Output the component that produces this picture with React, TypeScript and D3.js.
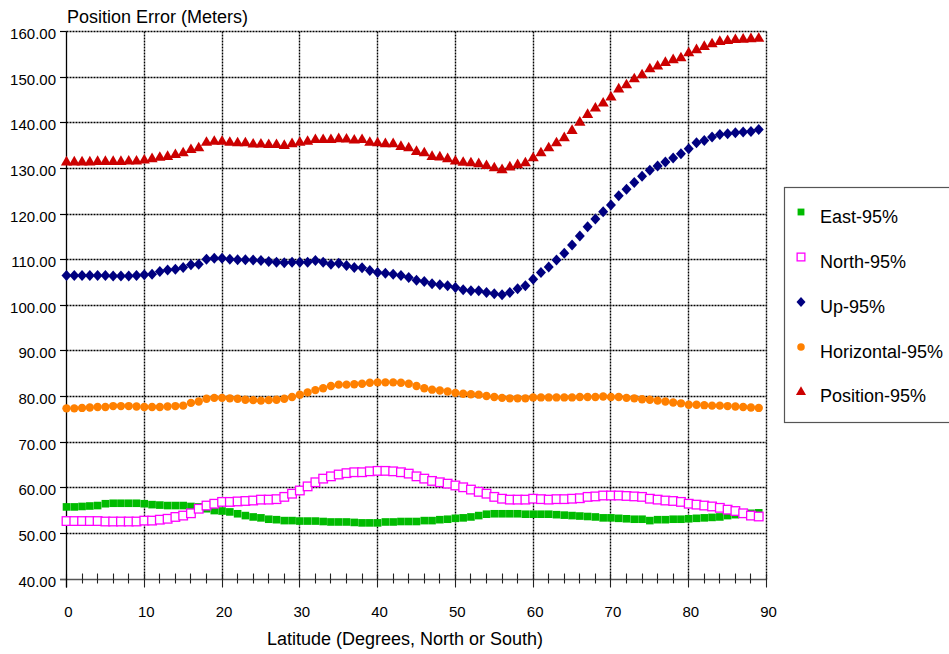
import React from "react";
import * as d3 from "d3";

const latitudes: number[] = d3.range(0, 90);

const east95: number[] = [
  55.8, 55.8, 55.9, 56.0, 56.1, 56.5, 56.6, 56.6, 56.6, 56.6,
  56.5, 56.3, 56.2, 56.1, 56.1, 56.1, 55.9, 55.8, 55.4, 55.0,
  54.9, 54.7, 54.3, 53.9, 53.6, 53.4, 53.1, 53.0, 52.8, 52.8,
  52.7, 52.7, 52.7, 52.6, 52.5, 52.5, 52.5, 52.4, 52.3, 52.3,
  52.3, 52.5, 52.5, 52.6, 52.6, 52.6, 52.8, 52.8, 53.0, 53.1,
  53.3, 53.4, 53.6, 53.9, 54.2, 54.3, 54.3, 54.3, 54.3, 54.2,
  54.2, 54.2, 54.2, 54.1, 54.0, 53.9, 53.8, 53.7, 53.6, 53.4,
  53.4, 53.3, 53.2, 53.1, 53.1, 52.8, 53.0, 53.0, 53.1, 53.1,
  53.2, 53.3, 53.4, 53.5, 53.6, 53.9, 54.1, 54.3, 54.4, 54.5,
];

const north95: number[] = [
  52.7, 52.7, 52.7, 52.7, 52.7, 52.6, 52.6, 52.6, 52.6, 52.6,
  52.8, 52.8, 53.0, 53.2, 53.6, 53.9, 54.4, 55.4, 56.1, 56.5,
  56.9, 56.9, 57.0, 57.1, 57.2, 57.4, 57.4, 57.5, 58.0, 58.7,
  59.4, 60.3, 61.2, 62.0, 62.5, 62.9, 63.2, 63.4, 63.4, 63.6,
  63.7, 63.7, 63.6, 63.4, 63.1, 62.5, 62.0, 61.5, 61.2, 60.9,
  60.5, 60.1, 59.6, 59.1, 58.7, 58.0, 57.6, 57.4, 57.4, 57.4,
  57.6, 57.5, 57.4, 57.5, 57.5, 57.6, 57.7, 58.0, 58.1, 58.3,
  58.3, 58.3, 58.2, 58.1, 58.0, 57.6, 57.4, 57.2, 57.1, 56.9,
  56.5, 56.3, 56.1, 55.9, 55.6, 55.2, 54.9, 54.4, 53.9, 53.7,
];

const up95: number[] = [
  106.5, 106.5, 106.5, 106.5, 106.5, 106.5, 106.4, 106.4, 106.4, 106.5,
  106.7, 106.8, 107.4, 107.7, 107.9, 108.3, 108.9, 109.0, 110.1, 110.3,
  110.3, 110.1, 110.0, 110.0, 109.9, 109.8, 109.6, 109.4, 109.3, 109.4,
  109.4, 109.4, 109.8, 109.4, 109.0, 109.2, 108.7, 108.3, 108.2, 107.6,
  107.2, 107.0, 106.8, 106.5, 106.1, 105.5, 105.2, 104.7, 104.5, 104.3,
  103.9, 103.4, 103.2, 103.2, 102.8, 102.5, 102.3, 102.8, 103.6, 104.3,
  105.7, 107.2, 108.4, 109.9, 111.4, 113.2, 115.2, 117.2, 118.9, 120.5,
  122.0, 124.0, 125.4, 126.9, 128.3, 129.6, 130.5, 131.4, 132.3, 133.2,
  134.3, 135.6, 136.1, 136.9, 137.4, 137.6, 137.8, 138.0, 138.1, 138.5,
];

const horizontal95: number[] = [
  77.4, 77.4, 77.5, 77.6, 77.7, 77.7, 77.9, 77.9, 77.9, 77.8,
  77.7, 77.7, 77.7, 77.8, 77.9, 78.0, 78.6, 78.9, 79.5, 79.7,
  79.7, 79.6, 79.5, 79.3, 79.2, 79.1, 79.2, 79.3, 79.5, 79.9,
  80.4, 80.9, 81.4, 81.8, 82.3, 82.6, 82.6, 82.7, 82.8, 83.0,
  83.1, 83.1, 83.1, 83.0, 82.8, 82.3, 81.8, 81.5, 81.3, 81.1,
  80.8, 80.6, 80.5, 80.4, 80.1, 79.9, 79.7, 79.6, 79.6, 79.6,
  79.8, 79.8, 79.8, 79.8, 79.8, 79.8, 79.9, 79.9, 79.9, 80.0,
  79.9, 79.9, 79.7, 79.6, 79.4, 79.3, 79.1, 78.9, 78.7, 78.5,
  78.2, 78.2, 78.1, 78.0, 78.0, 77.9, 77.8, 77.7, 77.6, 77.5,
];

const position95: number[] = [
  131.6, 131.6, 131.6, 131.6, 131.7, 131.7, 131.7, 131.7, 131.8, 131.8,
  132.0, 132.3, 132.6, 132.8, 133.2, 133.6, 134.3, 134.7, 135.9, 136.1,
  136.1, 135.9, 135.8, 135.8, 135.5, 135.5, 135.4, 135.4, 135.2, 135.6,
  135.9, 136.1, 136.5, 136.5, 136.5, 136.7, 136.6, 136.4, 136.5, 135.9,
  135.8, 135.6, 135.6, 135.0, 134.7, 133.9, 133.6, 132.8, 132.7, 132.3,
  131.8, 131.5, 131.4, 131.2, 130.8, 130.3, 129.9, 130.5, 131.0, 131.4,
  132.5, 133.6, 134.7, 135.8, 136.9, 138.5, 140.3, 142.0, 143.4, 144.5,
  145.8, 147.6, 148.5, 149.8, 150.7, 152.0, 152.6, 153.4, 154.0, 154.4,
  155.5, 156.2, 156.9, 157.5, 158.0, 158.2, 158.4, 158.5, 158.6, 158.7,
];

const seriesNames: string[] = ["East-95%", "North-95%", "Up-95%", "Horizontal-95%", "Position-95%"];
const yTicks: number[] = [40, 50, 60, 70, 80, 90, 100, 110, 120, 130, 140, 150, 160];
const xTicks: number[] = [0, 10, 20, 30, 40, 50, 60, 70, 80, 90];
const xMinorTicks: number[] = d3.range(0, 91, 2);

const FONT = "'Liberation Sans', Arial, Helvetica, sans-serif";

type Kind = "sqFill" | "sqOpen" | "diamond" | "circle" | "triangle";
const seriesStyle: { kind: Kind; color: string; values: number[] }[] = [
  { kind: "sqFill", color: "#00bb00", values: east95 },
  { kind: "sqOpen", color: "#ff00ff", values: north95 },
  { kind: "diamond", color: "#000080", values: up95 },
  { kind: "circle", color: "#ff8000", values: horizontal95 },
  { kind: "triangle", color: "#cc0000", values: position95 },
];

function Marker({ kind, color, cx, cy, s = 1 }: { kind: Kind; color: string; cx: number; cy: number; s?: number }) {
  if (kind === "sqFill") {
    const h = 3.8 * s;
    return <rect x={cx - h} y={cy - h} width={2 * h} height={2 * h} fill={color} />;
  }
  if (kind === "sqOpen") {
    const h = 4.3 * s;
    return <rect x={cx - h} y={cy - h} width={2 * h} height={2 * h} fill="#fff" stroke={color} strokeWidth={1.3} />;
  }
  if (kind === "diamond") {
    const w = 5 * s, h = 5.5 * s;
    return <path d={`M${cx},${cy - h}L${cx + w},${cy}L${cx},${cy + h}L${cx - w},${cy}Z`} fill={color} />;
  }
  if (kind === "circle") {
    return <circle cx={cx} cy={cy} r={4.2 * s} fill={color} />;
  }
  const w = 5.6 * s, h = 9.6 * s;
  return <path d={`M${cx},${cy - h * 0.55}L${cx + w},${cy + h * 0.45}L${cx - w},${cy + h * 0.45}Z`} fill={color} />;
}

export default function App() {
  const W = 949, H = 654;
  const x = d3.scaleLinear().domain([0, 90]).range([66.5, 766.5]);
  const y = d3.scaleLinear().domain([40, 160]).range([579, 31.5]);
  const c = (v: number) => Math.floor(v) + 0.5;
  const left = c(x(0)), right = c(x(90)), top = c(y(160)), bottom = c(y(40));

  const legendY = [212, 257, 302, 347, 391];

  return (
    <div style={{ position: "absolute", left: 0, top: 0 }}>
      <svg width={W} height={H} style={{ display: "block", background: "#fff" }} fontFamily={FONT}>
        <rect width={W} height={H} fill="#fff" />
        {/* title */}
        <text x={67} y={22.5} fontSize={18} fill="#000">Position Error (Meters)</text>

        {/* grid */}
        {yTicks.filter((t) => t > 40).map((t) => (
          <line key={"gy" + t} x1={left} x2={right} y1={c(y(t))} y2={c(y(t))} stroke="#000" strokeWidth={1.4} strokeDasharray="2,1" />
        ))}
        {xTicks.filter((t) => t > 0).map((t) => (
          <line key={"gx" + t} x1={c(x(t))} x2={c(x(t))} y1={top} y2={bottom} stroke="#000" strokeWidth={1.4} strokeDasharray="2,1" />
        ))}

        {/* y ticks + labels */}
        {yTicks.map((t) => (
          <g key={"yt" + t}>
            <line x1={60} x2={left} y1={c(y(t))} y2={c(y(t))} stroke="#000" strokeWidth={1.2} />
            <text x={56} y={y(t) + 7.5} fontSize={15} textAnchor="end" fill="#000">{t.toFixed(2)}</text>
          </g>
        ))}

        {/* x axis */}
        <line x1={60} x2={right} y1={bottom} y2={bottom} stroke="#555" strokeWidth={1.3} />
        {xMinorTicks.map((t) => (
          <line key={"xm" + t} x1={c(x(t))} x2={c(x(t))} y1={bottom - 6} y2={t % 10 === 0 ? bottom + 8 : bottom + 4} stroke="#222" strokeWidth={1.1} />
        ))}
        {xTicks.map((t) => (
          <text key={"xl" + t} x={x(t) + 2} y={617} fontSize={15} textAnchor="middle" fill="#000">{t}</text>
        ))}
        <line x1={left} x2={left} y1={top} y2={bottom + 8} stroke="#000" strokeWidth={1.3} />

        <text x={405} y={645} fontSize={18} textAnchor="middle" fill="#000">Latitude (Degrees, North or South)</text>

        {/* series */}
        {seriesStyle.map((s, si) => (
          <g key={"s" + si}>
            {latitudes.map((lat, i) => (
              <Marker key={i} kind={s.kind} color={s.color} cx={x(lat)} cy={y(s.values[i])} />
            ))}
          </g>
        ))}

        {/* legend */}
        <rect x={784.5} y={187.5} width={180} height={235} fill="#fff" stroke="#555" strokeWidth={1.2} />
        {seriesNames.map((n, i) => (
          <g key={"lg" + i}>
            <Marker kind={seriesStyle[i].kind} color={seriesStyle[i].color} cx={801} cy={legendY[i]} s={0.9} />
            <text x={820} y={legendY[i] + 11} fontSize={18} fill="#000">{n}</text>
          </g>
        ))}
      </svg>
    </div>
  );
}
